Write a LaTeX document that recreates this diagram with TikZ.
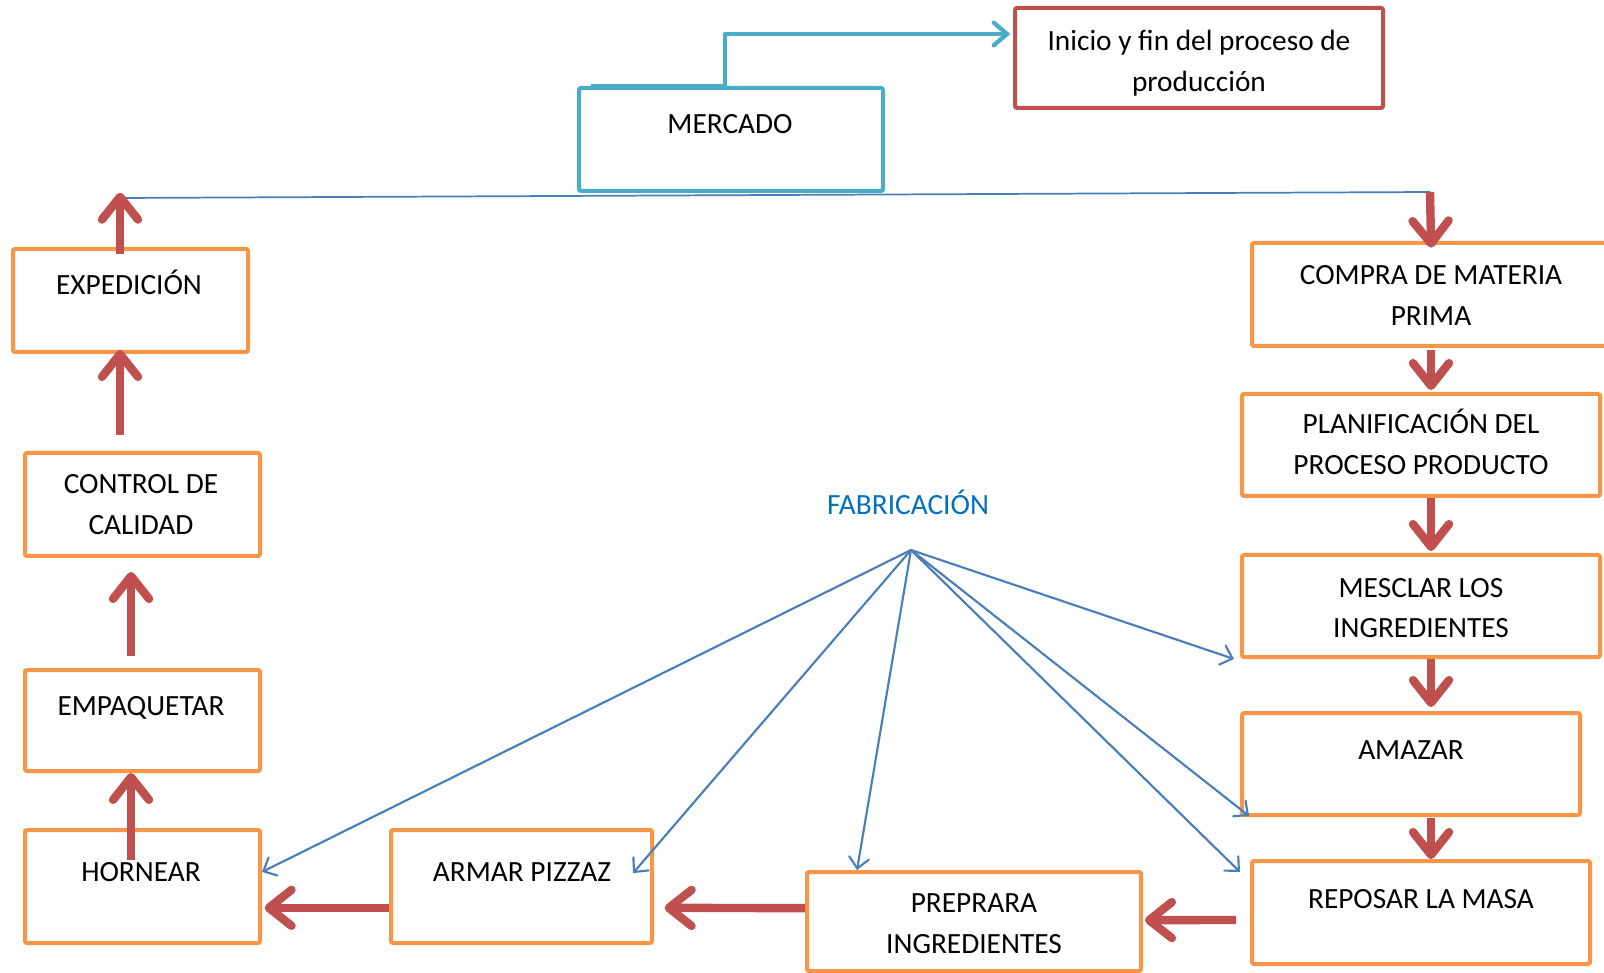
\documentclass[tikz,border=0pt]{standalone}
\usepackage{fontspec}
\setmainfont{Carlito}
\usetikzlibrary{arrows.meta,calc}
\definecolor{orgC}{HTML}{F79646}
\definecolor{redC}{HTML}{C0504D}
\definecolor{tealC}{HTML}{4BACC6}
\definecolor{blueL}{HTML}{4A7EBB}
\definecolor{fabC}{HTML}{0070C0}
\newcommand\mybx[6]{\node[box,draw=#2,minimum width={(#5-#3)*0.75pt},minimum height={(#6-#4)*0.75pt}] (#1) at ({(#3+#5)/2},{(#4+#6)/2}) {};}
\begin{document}
\begin{tikzpicture}[x=0.75pt,y=-0.75pt,
 box/.style={line width=3pt, rounded corners=1.5pt, inner sep=0pt, fill=white},
 txt/.style={anchor=base, inner sep=0pt, font=\fontsize{22pt}{26pt}\selectfont},
 rarr/.style={draw=redC, line width=6.3pt, -{Straight Barb[length=17pt,width=27pt,line cap=round,line join=round]}},
 barr/.style={draw=blueL, line width=1.6pt, -{Straight Barb[length=8pt,width=15pt,line cap=round]}},
 tarr/.style={draw=tealC, line width=3.2pt, line join=round, -{Straight Barb[length=10pt,width=17pt,line cap=round]}},
]
\useasboundingbox[fill=white] (0,0) rectangle (1604,973);
% boxes
\mybx{merc}{tealC}{579}{88}{883}{191}
\mybx{inic}{redC}{1015}{8}{1383}{108}
\mybx{expe}{orgC}{13}{249}{248}{352}
\mybx{ctrl}{orgC}{25}{453}{260}{556}
\mybx{empa}{orgC}{25}{670}{260}{771}
\mybx{horn}{orgC}{25}{830}{260}{943}
\mybx{armar}{orgC}{391}{830}{652}{943}
\mybx{prep}{orgC}{807}{872}{1141}{971}
\mybx{repo}{orgC}{1252}{861}{1590}{964}
\mybx{amaz}{orgC}{1242}{713}{1580}{815}
\mybx{mesc}{orgC}{1242}{555}{1600}{657}
\mybx{plan}{orgC}{1242}{394}{1600}{496}
\mybx{compra}{orgC}{1252}{243}{1610}{346}
% coordinates
\coordinate (lineL) at (120,198);
\coordinate (lineR) at (1430,192);
\coordinate (hub) at (911,550);
% elbow
\draw[tarr] ([xshift=10.5pt]merc.north west) -- ++(134,0) |- ([xshift=-2pt,yshift=18pt]inic.west);
% long line
\draw[blueL, line width=1.3pt] (lineL) -- (lineR);
% red arrows left column
\draw[rarr, shorten >=-4pt] ([yshift=-5pt]expe.north -| lineL) -- (lineL);
\draw[rarr] ([yshift=12pt]ctrl.north -| lineL) -- ([yshift=3pt]expe.south -| lineL);
\draw[rarr] ([xshift=-8.6pt,yshift=9pt]empa.north) -- ([xshift=-8.6pt,yshift=-10.5pt]ctrl.south);
\draw[rarr] ([xshift=-8.6pt,yshift=-24pt]horn.north) -- ([xshift=-8.6pt]empa.south);
% red arrows right column
\draw[rarr, shorten >=-5pt] (lineR) -- (compra.north);
\draw[rarr] ([yshift=-1.5pt]compra.south) -- ([yshift=1.5pt]plan.north -| compra.south);
\draw[rarr] (plan.south -| compra.south) -- ([yshift=1.5pt]mesc.north -| compra.south);
\draw[rarr] (mesc.south -| compra.south) -- ([yshift=3pt]amaz.north -| compra.south);
\draw[rarr] ([yshift=-1pt]amaz.south -| compra.south) -- (repo.north -| compra.south);
% red arrows bottom row
\draw[rarr] ([yshift=-16pt]armar.west) -- ([xshift=2pt,yshift=-16pt]horn.east);
\draw[rarr] ([yshift=10pt]prep.west) -- ([xshift=8pt,yshift=-16pt]armar.east);
\draw[rarr] ([xshift=-10.5pt,yshift=-5.6pt]repo.west) -- ([xshift=1.5pt,yshift=1pt]prep.east);
% blue arrows
\draw[barr] (hub) -- ([yshift=10.9pt]horn.east);
\draw[barr] (hub) -- ([xshift=-15.75pt,yshift=10pt]armar.east);
\draw[barr] (hub) -- ([xshift=-87.75pt]prep.north);
\draw[barr] (hub) -- ([xshift=6.75pt,yshift=0.75pt]amaz.south west);
\draw[barr] (hub) -- ([xshift=-7.5pt,yshift=-9.75pt]repo.north west);
\draw[barr] (hub) -- ([xshift=-4.5pt]mesc.south west);
% texts
\node[txt] (tmerc) at (730,134) {MERCADO};
\node[txt] (tini1) at (1199,51) {Inicio y fin del proceso de};
\node[txt] (tini2) at (1199,92) {producción};
\node[txt, text=fabC] (fab) at (908,515) {FABRICACIÓN};
\node[txt] (texpe) at (129,295) {EXPEDICIÓN};
\node[txt] (tctrl1) at (141,494) {CONTROL DE};
\node[txt] (tctrl2) at (141,535) {CALIDAD};
\node[txt] (tempa) at (141,715) {EMPAQUETAR};
\node[txt] (thorn) at (141,881) {HORNEAR};
\node[txt] (tarm) at (522,881) {ARMAR PIZZAZ};
\node[txt] (tprep1) at (974,912) {PREPRARA};
\node[txt] (tprep2) at (974,953) {INGREDIENTES};
\node[txt] (trepo) at (1421,908) {REPOSAR LA MASA};
\node[txt] (tamaz) at (1411,759) {AMAZAR};
\node[txt] (tmesc1) at (1421,597) {MESCLAR LOS};
\node[txt] (tmesc2) at (1421,638) {INGREDIENTES};
\node[txt] (tplan1) at (1421,434) {PLANIFICACIÓN DEL};
\node[txt] (tplan2) at (1421,475) {PROCESO PRODUCTO};
\node[txt] (tcomp1) at (1431,285) {COMPRA DE MATERIA};
\node[txt] (tcomp2) at (1431,326) {PRIMA};
\end{tikzpicture}
\end{document}
